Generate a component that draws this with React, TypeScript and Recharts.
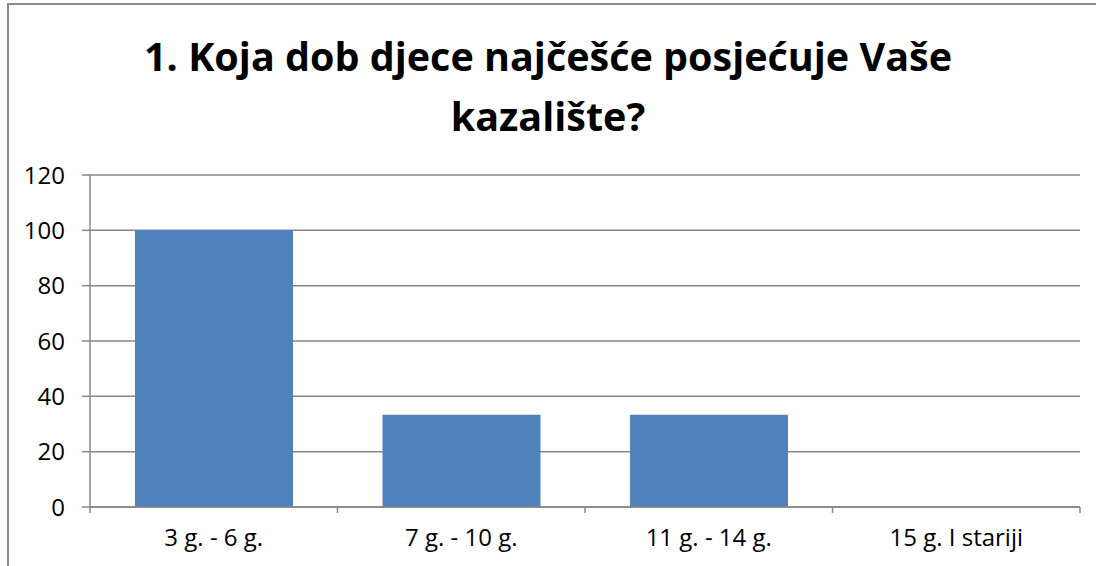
import { BarChart, Bar, XAxis, YAxis, CartesianGrid } from "recharts";

const categories = ["3 g. - 6 g.", "7 g. - 10 g.", "11 g. - 14 g.", "15 g. I stariji"];
const counts = [100, 33.33, 33.33, 0];
const yTicks = [0, 20, 40, 60, 80, 100, 120];

const data = categories.map((name, i) => ({ name, value: counts[i] }));

const W = 1096;
const H = 566;
const M = { top: 175, right: 16, bottom: 0, left: 0 };
const Y_W = 90;
const X_H = 59;
const GRID = "#868686";
const FONT = "'Open Sans', Lato, sans-serif";

const band = (W - M.left - M.right - Y_W) / categories.length;

const XTick = (props: any) => {
  const { x, y, index, payload } = props;
  const left = x - band / 2;
  return (
    <g>
      <line x1={left} x2={left} y1={y} y2={y + 6} stroke={GRID} strokeWidth={1.5} />
      {index === categories.length - 1 && (
        <line x1={x + band / 2} x2={x + band / 2} y1={y} y2={y + 6} stroke={GRID} strokeWidth={1.5} />
      )}
      <text x={x} y={y + 33} textAnchor="middle" dominantBaseline="middle" fontSize={24} fontFamily={FONT} fill="#000">
        {payload.value}
      </text>
    </g>
  );
};

export default function App() {
  return (
    <div style={{ position: "absolute", left: 0, top: 0, width: W, height: H, background: "#fff" }}>
      <div
        style={{
          position: "absolute",
          left: 7,
          top: 3,
          width: W - 7,
          height: H - 3,
          borderLeft: "2px solid #8c8c8c",
          borderTop: "2px solid #8c8c8c",
        }}
      />
      <div
        style={{
          position: "absolute",
          left: 0,
          top: 26,
          width: W,
          textAlign: "center",
          fontFamily: FONT,
          fontWeight: 700,
          fontSize: 39.5,
          lineHeight: "60px",
          color: "#000",
        }}
      >
        1. Koja dob djece najčešće posjećuje Vaše
        <br />
        kazalište?
      </div>
      <div style={{ position: "absolute", left: 0, top: 0 }}>
        <BarChart width={W} height={H} data={data} margin={M} barSize={158}>
          <CartesianGrid vertical={false} stroke={GRID} strokeWidth={1.5} />
          <XAxis
            dataKey="name"
            height={X_H}
            tickLine={false}
            tickSize={0}
            tickMargin={0}
            axisLine={{ stroke: GRID, strokeWidth: 1.5 }}
            tick={<XTick />}
            interval={0}
          />
          <YAxis
            width={Y_W}
            domain={[0, 120]}
            ticks={yTicks}
            interval={0}
            tickSize={8}
            tickMargin={17}
            tickLine={{ stroke: GRID, strokeWidth: 1.5 }}
            axisLine={{ stroke: GRID, strokeWidth: 1.5 }}
            tick={{ fontSize: 24, fontFamily: FONT, fill: "#000" }}
          />
          <Bar dataKey="value" fill="#4F81BD" isAnimationActive={false} />
        </BarChart>
      </div>
    </div>
  );
}
